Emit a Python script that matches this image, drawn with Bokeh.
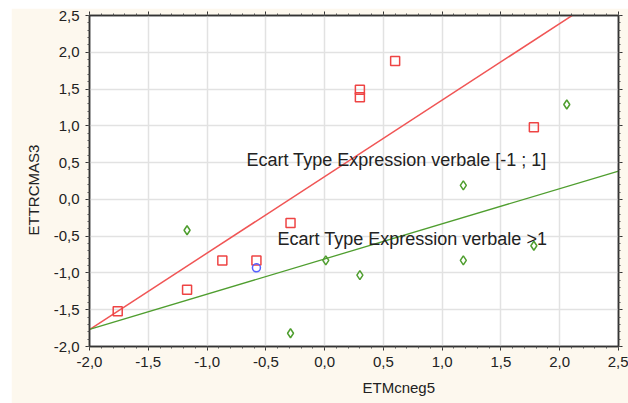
from bokeh.plotting import figure
from bokeh.models import (Range1d, LinearAxis, SingleIntervalTicker, CustomJSTickFormatter,
                          Label, Title)
from bokeh.embed import file_html
from bokeh.resources import INLINE

# ---- data ----
red_x = [-1.76, -1.17, -0.87, -0.58, -0.29, 0.30, 0.30, 0.60, 1.78]
red_y = [-1.52, -1.23, -0.83, -0.83, -0.32, 1.49, 1.39, 1.88, 0.98]

green_x = [-1.17, -0.29, 0.01, 0.30, 1.18, 1.78, 1.18, 2.06]
green_y = [-0.42, -1.82, -0.83, -1.03, -0.83, -0.63, 0.19, 1.29]

blue_x = [-0.58]
blue_y = [-0.93]

# fitted lines: intercept, slope
red_fit = [0.31, 1.04]
green_fit = [-0.81, 0.478]
fit_x = [-2.0, 2.5]

x_label = "ETMcneg5"
y_label = "ETTRCMAS3"
label_red = "Ecart Type Expression verbale [-1 ; 1]"
label_green = "Ecart Type Expression verbale >1"

FONT = "Liberation Sans"
CREAM = "#fdf8ee"

p = figure(width=617, height=395, margin=(8, 0, 0, 11),
           x_range=Range1d(-2.0, 2.5), y_range=Range1d(-2.0, 2.5),
           output_backend="svg", toolbar_location=None,
           x_axis_location=None, y_axis_location=None,
           min_border_left=78, min_border_top=7, min_border_right=10, min_border_bottom=57)
p.background_fill_color = "white"
p.border_fill_color = CREAM
p.outline_line_color = "#333333"
p.outline_line_width = 1.5

fmt = CustomJSTickFormatter(code="return tick.toFixed(1).replace('.', ',');")

def make_axis(labels):
    ax = LinearAxis(ticker=SingleIntervalTicker(interval=0.5, num_minor_ticks=5))
    ax.axis_line_color = "#333333"
    ax.axis_line_width = 1.5
    ax.major_tick_line_color = "#333333"
    ax.minor_tick_line_color = "#555555"
    ax.major_tick_out = 4
    ax.major_tick_in = 0
    ax.minor_tick_out = 2
    ax.minor_tick_in = 0
    if labels:
        ax.formatter = fmt
        ax.major_label_text_font = FONT
        ax.major_label_text_font_size = "15px"
        ax.major_label_text_color = "#222222"
        ax.major_label_standoff = 6
    else:
        ax.major_label_text_font_size = "0px"
        ax.major_label_standoff = 0
        ax.major_label_text_alpha = 0
    return ax

p.add_layout(make_axis(True), "below")
p.add_layout(make_axis(True), "left")
p.add_layout(make_axis(False), "above")
p.add_layout(make_axis(False), "right")

# axis titles as side titles (shifted like in the reference)
p.add_layout(Title(text=x_label, align="left", offset=273, standoff=14,
                   text_font=FONT, text_font_size="15px", text_font_style="normal",
                   text_color="#222222"), "below")
p.add_layout(Title(text=y_label, align="left", offset=111, standoff=17,
                   text_font=FONT, text_font_size="15px", text_font_style="normal",
                   text_color="#222222"), "left")

p.xgrid.ticker = SingleIntervalTicker(interval=0.5)
p.ygrid.ticker = SingleIntervalTicker(interval=0.5)
for g in (p.xgrid, p.ygrid):
    g.grid_line_color = "#e2e2e2"
    g.grid_line_width = 1.5

# fit lines
red_line_y = [red_fit[0] + red_fit[1] * x for x in fit_x]
green_line_y = [green_fit[0] + green_fit[1] * x for x in fit_x]
p.line(fit_x, red_line_y, line_color="#f05555", line_width=1.5)
p.line(fit_x, green_line_y, line_color="#4f9e2f", line_width=1.3)

# points
p.scatter(red_x, red_y, marker="square", size=9, fill_color="white", fill_alpha=0,
          line_color="#ee4444", line_width=1.5)
p.scatter(green_x, green_y, marker="diamond", size=9, fill_color=None,
          line_color="#4f9e2f", line_width=1.5)
p.scatter(blue_x, blue_y, marker="circle", size=8, fill_color=None,
          line_color="#5560ff", line_width=1.5)

# annotations
p.add_layout(Label(x=-0.665, y=0.54, text=label_red, text_font=FONT, text_font_size="18px",
                   text_color="#222222", text_baseline="alphabetic"))
p.add_layout(Label(x=-0.40, y=-0.533, text=label_green, text_font=FONT, text_font_size="18px",
                   text_color="#222222", text_baseline="alphabetic"))

open("out.html", "w").write(file_html(p, INLINE))
